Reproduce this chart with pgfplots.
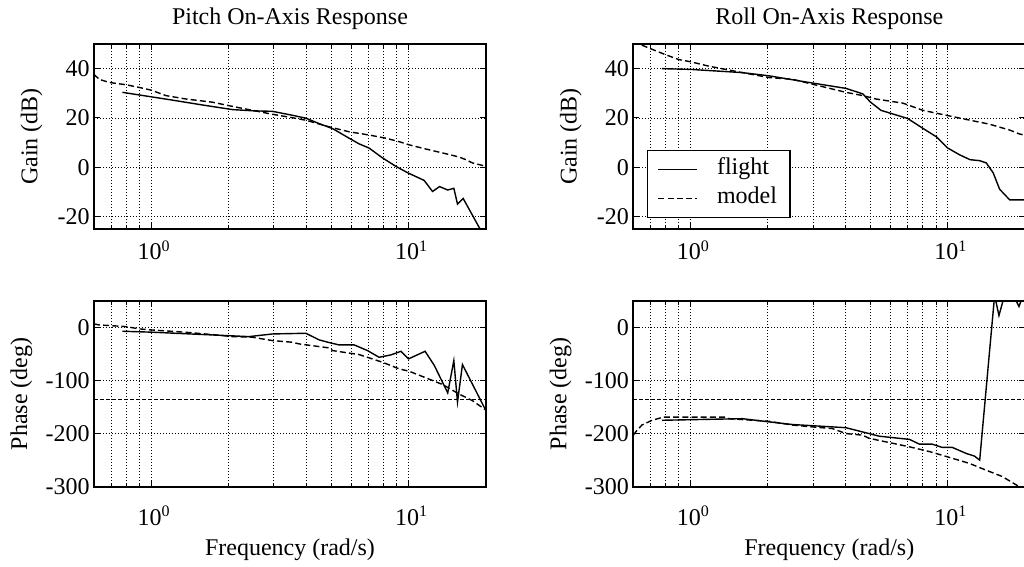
\documentclass[border=0pt]{standalone}
\usepackage{fontspec}
\setmainfont{Liberation Serif}
\usepackage{pgfplots}
\pgfplotsset{compat=1.18}
\tikzset{
  flight/.style={black, line width=0.7pt},
  model/.style={black, line width=0.7pt, dash pattern=on 3pt off 1.6pt},
  pm/.style={black, line width=0.5pt, dash pattern=on 2pt off 1pt},
}
\pgfplotsset{every axis title shift=0pt}
\pgfplotsset{every axis/.append style={
    scale only axis, width=196pt,
    xtick={1,10}, xticklabels={10\textsuperscript{0},10\textsuperscript{1}},
    minor xtick={0.7,0.8,0.9,2,3,4,5,6,7,8,9},
    grid=both,
    major grid style={black, line width=0.45pt, dash pattern=on 0.5pt off 1pt},
    minor grid style={black, line width=0.45pt, dash pattern=on 0.5pt off 1pt},
    axis line style={line width=1pt},
    tick style={black, line width=0.5pt},
    tick align=inside,
    major tick length=3pt, minor tick length=2pt,
    title style={at={(axis description cs:0.5,1)}, anchor=base, yshift=9.5pt},
    xlabel style={at={(axis description cs:0.5,0)}, anchor=base, yshift=-34.2pt},
}}
\begin{document}
\fontsize{12}{14.4}\selectfont
\begin{tikzpicture}
\useasboundingbox (0,0) rectangle (512pt,283.5pt);
% ---------------- Pitch gain
\begin{axis}[xmode=log, xmin=0.6, xmax=20, at={(47pt,169pt)}, anchor=south west,
  height=92.5pt, ymin=-25, ymax=50,
  ytick={-20,0,20,40}, yticklabels={-20,0,20,40},
  yticklabel style={xshift=2pt},
  xticklabel style={anchor=base, xshift=1.5pt, yshift=-15.5pt},
  ylabel={Gain (dB)}, ylabel style={at={(axis description cs:0,0.5)}, anchor=center, yshift=31.2pt},
  title={Pitch On-Axis Response}]
\addplot[model] coordinates {(0.6,37.7)(0.628,35.7)(0.687,34.4)(0.797,33.5)(0.898,32.4)(1.0,31.3)(1.14,29.1)(1.364,27.7)(1.731,26.4)(2.07,24.7)(2.476,23.1)(2.962,21.5)(3.54,20.1)(3.99,19.1)(4.92,16.4)(5.88,14.4)(7.03,13.1)(8.17,11.8)(9.2,10.4)(10.07,9.1)(11.7,7.4)(13.6,5.8)(15.7,4.2)(16.7,3.1)(17.7,1.8)(20,0.4)};
\addplot[flight] coordinates {(0.774,30.4)(1.2,27.3)(1.6,25.2)(2.07,23.4)(2.5,22.9)(2.96,22.7)(3.54,21.1)(4.0,19.9)(4.5,17.7)(5.07,15.7)(5.88,11.8)(6.43,9.5)(7.03,7.8)(7.93,3.8)(8.93,0.4)(9.92,-2.2)(11.5,-5.3)(12.4,-9.8)(13.2,-7.8)(14.2,-9.2)(15.0,-8.5)(15.5,-14.9)(16.3,-12.6)(19.2,-26)};
\end{axis}
% ---------------- Roll gain
\begin{axis}[xmode=log, xmin=0.6, xmax=20, at={(316.65pt,169pt)}, anchor=south west,
  height=92.5pt, ymin=-25, ymax=50,
  ytick={-20,0,20,40}, yticklabels={-20,0,20,40},
  yticklabel style={xshift=2pt},
  xticklabel style={anchor=base, xshift=1.5pt, yshift=-15.5pt},
  ylabel={Gain (dB)}, ylabel style={at={(axis description cs:0,0.5)}, anchor=center, yshift=31.2pt},
  title={Roll On-Axis Response},
  legend style={at={(0.035,0.06)}, anchor=south west, draw=black, line width=0.6pt,
    inner xsep=5pt, inner ysep=2.25pt, row sep=0pt, cells={anchor=west},
    nodes={inner sep=1.5pt, text height=8.5pt, text depth=3pt},
    /tikz/every odd column/.append style={column sep=8pt}},
  legend image code/.code={\draw[#1] (0pt,0pt) -- (19.5pt,0pt);}]
\addplot[flight] coordinates {(0.775,40)(1,39.7)(1.59,38.4)(2.02,37.1)(2.89,34.4)(4.02,32)(4.67,29.8)(5.0,26.5)(5.5,23.1)(6.98,19.8)(8.0,15.8)(9.02,12.4)(10,7.8)(11.1,5.1)(12.2,3.1)(13.3,2.7)(14.1,1.8)(15.0,-2.2)(15.9,-8.9)(17.4,-13.2)(20,-13.2)};
\addlegendentry{flight}
\addplot[model] coordinates {(0.6,51)(0.688,48.4)(0.799,45.7)(0.9,43.7)(1,42.8)(1.18,41)(1.37,39.7)(1.59,38.4)(2.02,36.4)(2.49,35.7)(2.98,33.7)(4.02,30.4)(4.66,29.1)(5.26,27.7)(6.7,26)(8.0,23.1)(9.86,21.1)(11.8,19.4)(14.5,17.5)(17.4,15.1)(19.0,13.5)(20,13)};
\addlegendentry{model}
\end{axis}
% ---------------- Pitch phase
\begin{axis}[xmode=log, xmin=0.6, xmax=20, at={(47pt,40.15pt)}, anchor=south west,
  height=93pt, ymin=-300, ymax=50,
  ytick={-300,-200,-100,0}, yticklabels={-300,-200,-100,0},
  yticklabel style={xshift=2pt},
  xticklabel style={anchor=base, xshift=1.5pt, yshift=-19.2pt},
  ylabel={Phase (deg)}, ylabel style={at={(axis description cs:0,0.5)}, anchor=center, yshift=36.3pt},
  xlabel={Frequency (rad/s)}]
\addplot[pm, forget plot] coordinates {(0.6,-135)(20,-135)};
\addplot[model] coordinates {(0.6,6.3)(0.628,4.4)(0.797,1.3)(0.898,-3)(1,-5)(1.364,-9.4)(1.73,-13.8)(2.07,-17.6)(2.48,-18.8)(2.96,-25.1)(3.54,-28.2)(3.76,-31.3)(4.92,-38.9)(5.07,-43.9)(6.43,-51.4)(7.93,-65.9)(9.2,-78.3)(10.07,-82.9)(11.7,-95.3)(13.6,-108)(15.7,-125.5)(17.7,-138)(19.7,-153.7)(20,-156)};
\addplot[flight] coordinates {(0.774,-7.5)(1,-9.2)(2.4,-17.6)(2.96,-12.6)(3.99,-11.3)(4.5,-23.8)(4.92,-28.8)(5.37,-33.2)(6.15,-33.2)(6.93,-43.9)(7.69,-56.5)(8.54,-52)(9.35,-45.2)(10.0,-59.5)(11.6,-45.2)(12.6,-72)(14.2,-123.5)(15.0,-62.7)(15.5,-141)(16.2,-70.2)(19.9,-155)};
\end{axis}
% ---------------- Roll phase
\begin{axis}[xmode=log, xmin=0.6, xmax=20, at={(316.65pt,40.15pt)}, anchor=south west,
  height=93pt, ymin=-300, ymax=50,
  ytick={-300,-200,-100,0}, yticklabels={-300,-200,-100,0},
  yticklabel style={xshift=2pt},
  xticklabel style={anchor=base, xshift=1.5pt, yshift=-19.2pt},
  ylabel={Phase (deg)}, ylabel style={at={(axis description cs:0,0.5)}, anchor=center, yshift=36.3pt},
  xlabel={Frequency (rad/s)}]
\addplot[pm, forget plot] coordinates {(0.6,-135)(20,-135)};
\addplot[model] coordinates {(0.6,-203)(0.62,-194)(0.648,-184)(0.71,-175)(0.787,-169)(1.37,-169)(1.41,-172)(2.02,-177)(2.49,-184)(2.98,-187.5)(3.56,-190.6)(4.02,-200)(4.66,-203)(4.95,-209)(7.1,-225)(8.5,-234)(10,-244)(12.1,-256)(14.1,-269)(16.3,-281)(18.5,-297)(19.9,-306)};
\addplot[flight] coordinates {(0.775,-175)(1.59,-172)(2.02,-178)(2.49,-183)(4.02,-189)(5.42,-205)(7.1,-211)(7.76,-220)(8.7,-220)(9.5,-226)(10.4,-226)(11.8,-237.5)(12.7,-242.5)(13.3,-250)(15.2,60)(15.8,22)(16.6,60)(18.0,60)(18.9,39)(19.6,60)(20,60)};
\end{axis}
\end{tikzpicture}
\end{document}
